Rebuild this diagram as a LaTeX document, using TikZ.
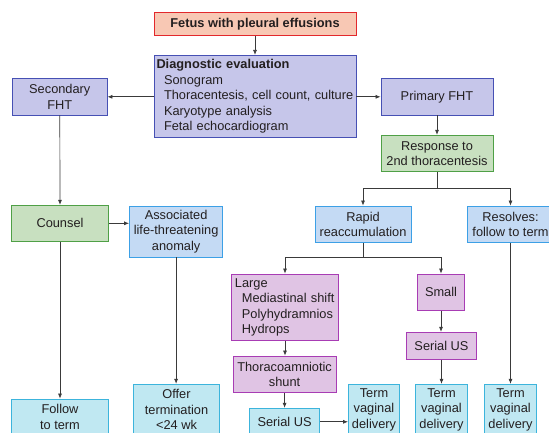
\documentclass[tikz,border=0pt]{standalone}
\usepackage{fontspec}
\setmainfont{Liberation Sans}
\usetikzlibrary{arrows.meta}
\definecolor{textgray}{HTML}{231F20}
\definecolor{linegray}{HTML}{3A3A3A}
\definecolor{salmonfill}{HTML}{F8C8B4}
\definecolor{salmonline}{HTML}{E2282C}
\definecolor{lavfill}{HTML}{C6C6EA}
\definecolor{lavline}{HTML}{4650B4}
\definecolor{greenfill}{HTML}{C8E0C0}
\definecolor{greenline}{HTML}{4FA046}
\definecolor{bluefill}{HTML}{C4DAF4}
\definecolor{blueline}{HTML}{3CA0E6}
\definecolor{violetfill}{HTML}{E0C4E4}
\definecolor{violetline}{HTML}{A83CB4}
\definecolor{cyanfill}{HTML}{C0E8F2}
\definecolor{cyanline}{HTML}{3CB4DC}
\begin{document}
\begin{tikzpicture}[x=1pt, y=-1pt, font=\fontsize{12.8}{15.5}\selectfont,
    box/.style={rectangle, draw, line width=0.9pt, inner sep=2pt, align=center, text=textgray},
    redbox/.style={box, draw=salmonline, fill=salmonfill},
    lavbox/.style={box, draw=lavline, fill=lavfill},
    greenbox/.style={box, draw=greenline, fill=greenfill},
    bluebox/.style={box, draw=blueline, fill=bluefill},
    violetbox/.style={box, draw=violetline, fill=violetfill},
    cyanbox/.style={box, draw=cyanline, fill=cyanfill},
    arr/.style={-{Latex[length=5pt, width=4pt]}, line width=0.7pt, draw=linegray}]
    \useasboundingbox (0,0) rectangle (549,432);
    \clip (0,0) rectangle (549,432);

    % Start and evaluation
    \node[redbox, minimum width=202pt, minimum height=23pt] (fetus) at (255,23.8)
      {\textbf{Fetus with pleural effusions}};
    \node[lavbox, align=left, text width=197pt, inner xsep=2.5pt, minimum height=81.7pt]
      (diag) at (255,96.2)
      {\textbf{Diagnostic evaluation}\\
       \hspace*{7.5pt}Sonogram\\
       \hspace*{7.5pt}Thoracentesis, cell count, culture\\
       \hspace*{7.5pt}Karyotype analysis\\
       \hspace*{7.5pt}Fetal echocardiogram};
    \node[lavbox, minimum width=94.4pt, minimum height=36.3pt] (secfht) at (59.8,96.8)
      {Secondary\\FHT};
    \node[lavbox, minimum width=112pt, minimum height=36.3pt] (primfht) at (437,96.8)
      {Primary FHT};

    % Secondary FHT branch
    \node[greenbox, minimum width=97pt, minimum height=36pt] (counsel) at (60,223.3)
      {Counsel};
    \node[bluebox, minimum width=93.2pt, minimum height=51pt] (anomaly) at (176.1,231.5)
      {Associated\\life-threatening\\anomaly};
    \node[cyanbox, minimum width=97pt, minimum height=35.3pt] (follow) at (60,416.7)
      {Follow\\to term};
    \node[cyanbox, minimum width=86pt, minimum height=50.8pt] (offer) at (176.5,409.7)
      {Offer\\termination\\<24 wk};

    % Primary FHT branch
    \node[greenbox, minimum width=112pt, minimum height=36.4pt] (response) at (437,153.5)
      {Response to\\2nd thoracentesis};
    \node[bluebox, minimum width=96pt, minimum height=36.3pt] (rapid) at (363,224.2)
      {Rapid\\reaccumulation};
    \node[bluebox, minimum width=87pt, minimum height=36.3pt] (resolves) at (510.5,224.2)
      {Resolves:\\follow to term};
    \node[violetbox, align=left, text width=100.2pt, inner xsep=3.5pt, minimum height=66.3pt]
      (large) at (285,307.2)
      {Large\\
       \hspace*{7pt}Mediastinal shift\\
       \hspace*{7pt}Polyhydramnios\\
       \hspace*{7pt}Hydrops};
    \node[violetbox, minimum width=47pt, minimum height=36.3pt] (small) at (441,292.2)
      {Small};
    \node[violetbox, minimum width=102.8pt, minimum height=36.3pt] (shunt) at (284.6,374.2)
      {Thoracoamniotic\\shunt};
    \node[violetbox, minimum width=70pt, minimum height=27pt] (serialr) at (441.5,345.8)
      {Serial US};
    \node[cyanbox, minimum width=70.4pt, minimum height=27pt] (seriall) at (284.6,421.8)
      {Serial US};
    \node[cyanbox, minimum width=51pt, minimum height=50.8pt] (terma) at (374,409.7)
      {Term\\vaginal\\delivery};
    \node[cyanbox, minimum width=52pt, minimum height=50.8pt] (termb) at (441.5,409.7)
      {Term\\vaginal\\delivery};
    \node[cyanbox, minimum width=52.4pt, minimum height=50.8pt] (termc) at (510.5,409.7)
      {Term\\vaginal\\delivery};

    % Junctions
    \coordinate (respj) at (437,188.3);
    \coordinate (rapidj) at (363,257.3);

    % Connectors
    \draw[arr] (fetus.south) -- (diag.north);
    \draw[arr] (diag.west |- secfht.east) -- (secfht.east);
    \draw[arr] (diag.east |- primfht.west) -- (primfht.west);
    \draw[arr] (secfht.south) -- (counsel.north);
    \draw[arr] (primfht.south) -- (response.north);
    \draw[arr] (counsel.east) -- (counsel.east -| anomaly.west);
    \draw[arr] (counsel.south) -- (follow.north);
    \draw[arr] (anomaly.south) -- (anomaly.south |- offer.north);
    \draw[line width=0.7pt, draw=linegray] (response.south) -- (respj);
    \draw[arr] (respj) -| (rapid.north);
    \draw[arr] (respj) -| (resolves.north);
    \draw[line width=0.7pt, draw=linegray] (rapid.south) -- (rapidj);
    \draw[arr] (rapidj) -| (large.north);
    \draw[arr] (rapidj) -| (small.north);
    \draw[arr] (large.south) -- (large.south |- shunt.north);
    \draw[arr] (shunt.south) -- (seriall.north);
    \draw[arr] (seriall.east) -- (seriall.east -| terma.west);
    \draw[arr] (small.south) -- (small.south |- serialr.north);
    \draw[arr] (serialr.south) -- (serialr.south |- termb.north);
    \draw[arr] (resolves.south) -- (resolves.south |- termc.north);
  \end{tikzpicture}
\end{document}
